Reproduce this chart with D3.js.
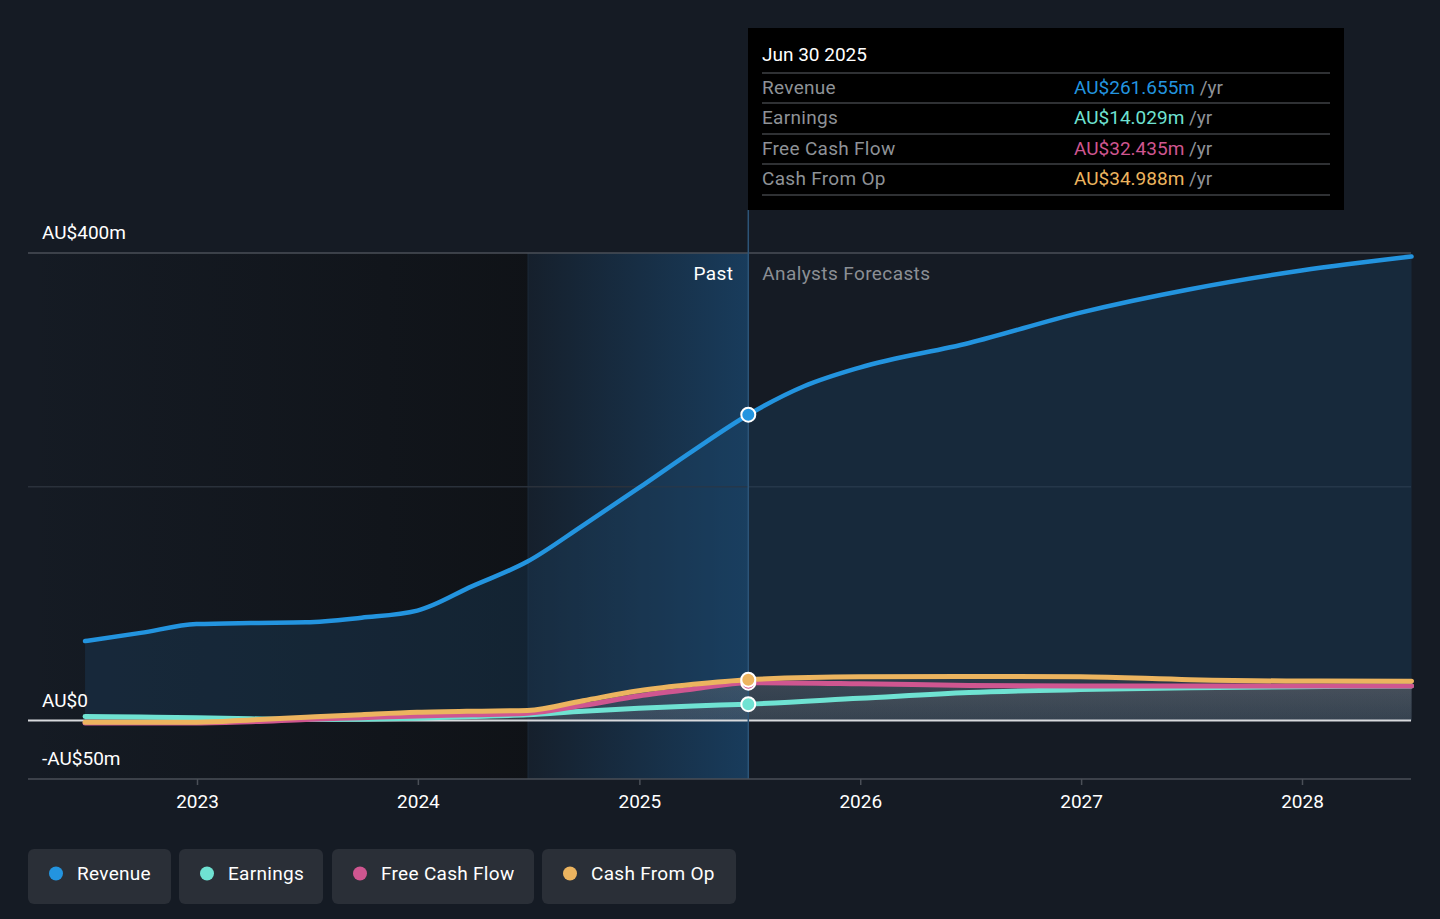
<!DOCTYPE html>
<html>
<head>
<meta charset="utf-8">
<script src="https://cdn.jsdelivr.net/npm/d3@7"></script>
<style>
  html, body { margin: 0; padding: 0; background: #151b24; }
  svg { display: block; font-family: Roboto, "Noto Sans", sans-serif; }
</style>
</head>
<body>
<div class="chart"></div>
<script>
const width = 1440;
const height = 919;

// data (AU$ millions)
const revenueDates = ["2022-06-30", "2022-09-30", "2022-12-31", "2023-03-31", "2023-06-30", "2023-09-30", "2023-12-31", "2024-03-31", "2024-06-30", "2024-09-30", "2024-12-31", "2025-03-31", "2025-06-30", "2025-09-30", "2025-12-31", "2026-06-30", "2026-12-31", "2027-06-30", "2027-12-31", "2028-06-30"];
const revenueValues = [68, 75, 82.5, 83.5, 84, 88, 94, 115, 136, 167, 199, 231, 261.655, 286, 302, 323, 349, 369, 385, 397];

const pastDates = ["2022-06-30", "2022-09-30", "2022-12-31", "2023-03-31", "2023-06-30", "2023-09-30", "2023-12-31", "2024-03-31", "2024-06-30", "2024-09-30", "2024-12-31", "2025-03-31", "2025-06-30"];
const forecastDates = ["2025-12-31", "2026-06-30", "2026-12-31", "2027-06-30", "2027-12-31", "2028-06-30"];

const earningsValues = [3.4, 3, 2.5, 1.5, 1, 1.2, 2, 3.5, 5, 8, 10.5, 12.5, 14.029, 19, 24, 26.5, 28, 29, 29.5];
const fcfValues = [-2, -2, -2, -1, 1, 2.5, 4, 5, 6.3, 13, 21, 27, 32.435, 31.5, 30, 29.5, 29.5, 29.5, 29.5];
const cfoValues = [-1.5, -1.5, -1.5, 0.5, 2.8, 5, 7, 8, 8.6, 17, 25.5, 31, 34.988, 37.5, 37.7, 37.5, 35, 33.8, 33.7];

const yTicks = [-50, 0, 200, 400];
const yTickLabels = { "-50": "-AU$50m", "0": "AU$0", "400": "AU$400m" };
const xTickYears = [2023, 2024, 2025, 2026, 2027, 2028];

const seriesNames = ["Revenue", "Earnings", "Free Cash Flow", "Cash From Op"];
const seriesColors = ["#2394df", "#6fe2d2", "#cf5690", "#ecb45f"];
const tooltipValues = ["AU$261.655m", "AU$14.029m", "AU$32.435m", "AU$34.988m"];

const parse = d3.timeParse("%Y-%m-%d");
const otherDates = pastDates.concat(forecastDates);
const revenue = revenueDates.map((d, i) => ({ date: parse(d), value: revenueValues[i] }));
const earnings = otherDates.map((d, i) => ({ date: parse(d), value: earningsValues[i] }));
const fcf = otherDates.map((d, i) => ({ date: parse(d), value: fcfValues[i] }));
const cfo = otherDates.map((d, i) => ({ date: parse(d), value: cfoValues[i] }));

const nowDate = parse("2025-06-30");
const highlightStart = parse("2024-07-01");

const xScale = d3.scaleTime()
  .domain([new Date(2023, 0, 1), new Date(2028, 0, 1)])
  .range([197, 1302]);
const yScale = d3.scaleLinear().domain([-50, 400]).range([779, 253]);

const left = 28, right = 1411;

const svg = d3.select(".chart").append("svg")
  .attr("width", width).attr("height", height);

const defs = svg.append("defs");
const pastGrad = defs.append("linearGradient").attr("id", "pastGrad");
pastGrad.append("stop").attr("offset", "0%").attr("stop-color", "#0d0f12").attr("stop-opacity", 0);
pastGrad.append("stop").attr("offset", "100%").attr("stop-color", "#0d0f12").attr("stop-opacity", 0.7);

const hlGrad = defs.append("linearGradient").attr("id", "hlGrad");
hlGrad.append("stop").attr("offset", "0%").attr("stop-color", "#1a4a74").attr("stop-opacity", 0.1);
hlGrad.append("stop").attr("offset", "100%").attr("stop-color", "#1a4a74").attr("stop-opacity", 0.7);

const greyGrad = defs.append("linearGradient").attr("id", "greyGrad")
  .attr("x1", 0).attr("x2", 0).attr("y1", 0).attr("y2", 1);
greyGrad.append("stop").attr("offset", "0%").attr("stop-color", "#6b6e74").attr("stop-opacity", 0.55);
greyGrad.append("stop").attr("offset", "100%").attr("stop-color", "#6b6e74").attr("stop-opacity", 0.3);

// past shading
svg.append("rect")
  .attr("x", left).attr("y", yScale(400))
  .attr("width", xScale(highlightStart) - left)
  .attr("height", yScale(-50) - yScale(400))
  .attr("fill", "url(#pastGrad)");
svg.append("rect")
  .attr("x", xScale(highlightStart)).attr("y", yScale(400))
  .attr("width", xScale(nowDate) - xScale(highlightStart))
  .attr("height", yScale(-50) - yScale(400))
  .attr("fill", "url(#hlGrad)");
svg.append("line")
  .attr("x1", xScale(highlightStart)).attr("x2", xScale(highlightStart))
  .attr("y1", yScale(400)).attr("y2", yScale(-50))
  .attr("stroke", "#1c2a38").attr("stroke-width", 1);

// grid lines
svg.append("g").selectAll("line")
  .data([400, 200])
  .enter().append("line")
  .attr("x1", left).attr("x2", right)
  .attr("y1", (d) => yScale(d)).attr("y2", (d) => yScale(d))
  .attr("stroke", (d) => (d === 400 ? "#4a4f57" : "#2a313b"))
  .attr("stroke-width", 1.5);

const curve = d3.curveMonotoneX;
const area = d3.area().curve(curve)
  .x((d) => xScale(d.date)).y0(yScale(0)).y1((d) => yScale(d.value));
const line = d3.line().curve(curve)
  .x((d) => xScale(d.date)).y((d) => yScale(d.value));

// areas
svg.append("path").datum(revenue).attr("d", area)
  .attr("fill", "#1d4568").attr("fill-opacity", 0.35);
[cfo, fcf, earnings].forEach((s) => {
  svg.append("path").datum(s).attr("d", area)
    .attr("fill", "url(#greyGrad)").attr("fill-opacity", 0.45);
});

// zero line
svg.append("line")
  .attr("x1", left).attr("x2", right)
  .attr("y1", yScale(0)).attr("y2", yScale(0))
  .attr("stroke", "#d8dadd").attr("stroke-width", 2);

// lines
const allSeries = [revenue, earnings, fcf, cfo];
[earnings, fcf, cfo, revenue].forEach((s) => {
  const idx = allSeries.indexOf(s);
  svg.append("path").datum(s).attr("d", line)
    .attr("fill", "none")
    .attr("stroke", seriesColors[idx])
    .attr("stroke-width", idx === 0 ? 4.5 : 5)
    .attr("stroke-linecap", "round");
});

// now line
svg.append("line")
  .attr("x1", xScale(nowDate)).attr("x2", xScale(nowDate))
  .attr("y1", 210).attr("y2", yScale(-50))
  .attr("stroke", "#2c5478").attr("stroke-width", 1.5);

// dots at now
[fcf, cfo, earnings, revenue].forEach((s) => {
  const idx = allSeries.indexOf(s);
  const p = s.find((d) => +d.date === +nowDate);
  svg.append("circle")
    .attr("cx", xScale(p.date)).attr("cy", yScale(p.value))
    .attr("r", 7)
    .attr("fill", seriesColors[idx])
    .attr("stroke", "#fff").attr("stroke-width", 2);
});

// bottom axis
svg.append("line")
  .attr("x1", left).attr("x2", right)
  .attr("y1", yScale(-50)).attr("y2", yScale(-50))
  .attr("stroke", "#4a4f57").attr("stroke-width", 1.5);
const xAxis = d3.axisBottom(xScale)
  .tickValues(xTickYears.map((y) => new Date(y, 0, 1)))
  .tickFormat(d3.timeFormat("%Y"))
  .tickSize(6).tickPadding(10);
const xg = svg.append("g")
  .attr("transform", "translate(0," + yScale(-50) + ")")
  .call(xAxis);
xg.select(".domain").remove();
xg.selectAll(".tick line").attr("stroke", "#4a4f57").attr("stroke-width", 1.5);
xg.selectAll(".tick text")
  .attr("fill", "#fff").attr("font-size", 19)
  .attr("font-family", "Roboto, sans-serif");

// y labels
svg.append("g").selectAll("text")
  .data(yTicks.filter((d) => yTickLabels[d]))
  .enter().append("text")
  .attr("x", 42)
  .attr("y", (d) => yScale(d) - 14)
  .text((d) => yTickLabels[d])
  .attr("fill", "#fff").attr("font-size", 19);

// Past / forecast labels
svg.append("text").text("Past")
  .attr("x", xScale(nowDate) - 15).attr("y", 280)
  .attr("text-anchor", "end").attr("fill", "#fff").attr("font-size", 19)
  .attr("letter-spacing", 0.4);
svg.append("text").text("Analysts Forecasts")
  .attr("x", xScale(nowDate) + 14).attr("y", 280)
  .attr("fill", "#8b8f95").attr("font-size", 19).attr("letter-spacing", 0.4);

// tooltip
const tip = svg.append("g").attr("transform", "translate(748,28)");
tip.append("rect").attr("width", 596).attr("height", 182).attr("fill", "#000");
tip.append("text").text("Jun 30 2025")
  .attr("x", 14).attr("y", 33).attr("fill", "#fff").attr("font-size", 19);
const rowTops = [45, 75, 106, 136, 167];
tip.selectAll("line.sep").data(rowTops).enter().append("line")
  .attr("x1", 14).attr("x2", 582)
  .attr("y1", (d) => d).attr("y2", (d) => d)
  .attr("stroke", "#3f4246").attr("stroke-width", 1.5);
seriesNames.forEach((name, i) => {
  const ty = rowTops[i] + 21;
  tip.append("text").text(name)
    .attr("x", 14).attr("y", ty)
    .attr("fill", "#8e9297").attr("font-size", 19).attr("letter-spacing", 0.3);
  const t = tip.append("text").attr("x", 326).attr("y", ty).attr("font-size", 19);
  t.append("tspan").text(tooltipValues[i]).attr("fill", seriesColors[i]);
  t.append("tspan").text(" /yr").attr("fill", "#8e9297");
});

// legend
const legendX = [28, 179, 332, 542];
const legendW = [143, 144, 202, 194];
const legend = svg.append("g");
seriesNames.forEach((name, i) => {
  const g = legend.append("g").attr("transform", "translate(" + legendX[i] + ",849)");
  g.append("rect").attr("width", legendW[i]).attr("height", 55)
    .attr("rx", 6).attr("fill", "#2a2f37");
  g.append("circle").attr("cx", 28).attr("cy", 24.5).attr("r", 7).attr("fill", seriesColors[i]);
  g.append("text").text(name).attr("x", 49).attr("y", 31)
    .attr("fill", "#fff").attr("font-size", 19).attr("letter-spacing", 0.3);
});
</script>
</body>
</html>
